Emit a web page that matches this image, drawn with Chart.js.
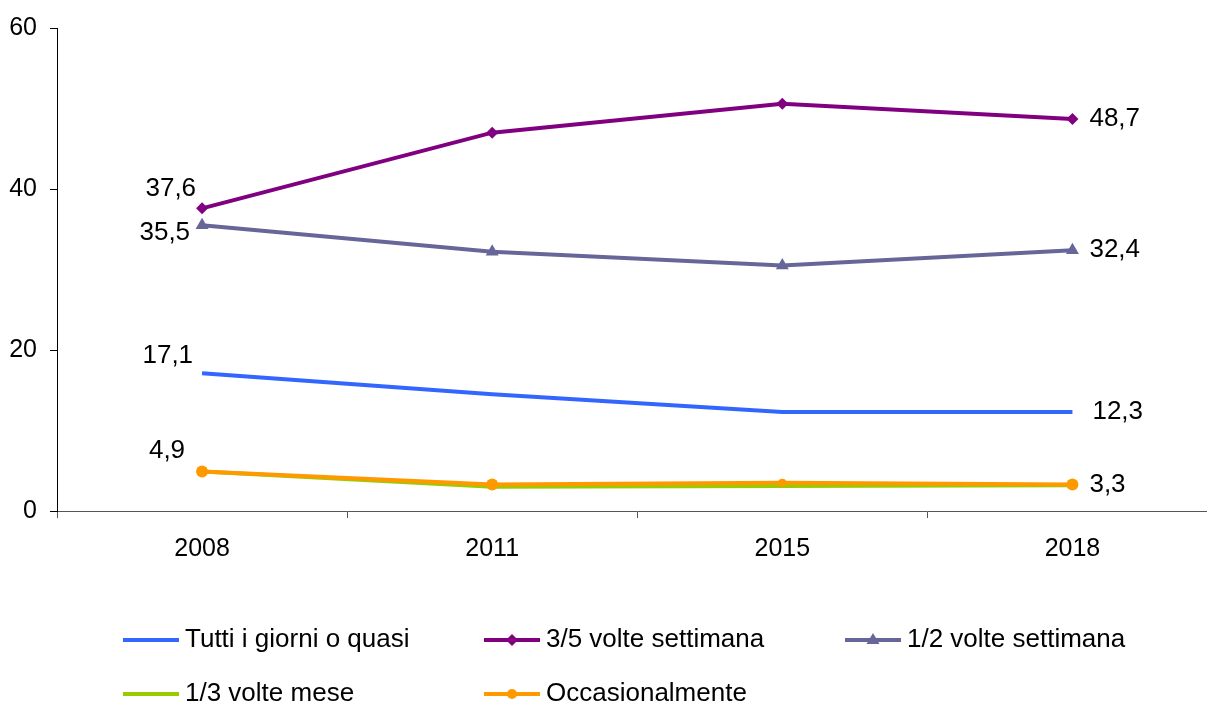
<!DOCTYPE html>
<html>
<head>
<meta charset="utf-8">
<script src="https://cdn.jsdelivr.net/npm/chart.js@4/dist/chart.umd.min.js"></script>
<style>
    html, body { margin: 0; padding: 0; background: #fff; overflow: hidden; }
    #wrap { width: 1225px; height: 706px; }
</style>
</head>
<body>
<div id="wrap"><canvas id="myChart" width="1225" height="706"></canvas></div>
<script>
var anni = ['2008', '2011', '2015', '2018'];
var tuttiGiorni = [17.1, 14.5, 12.3, 12.3];
var treCinqueSett = [37.6, 47.0, 50.6, 48.7];
var unoDueSett = [35.5, 32.2, 30.5, 32.4];
var unoTreMese = [4.9, 3.0, 3.1, 3.2];
var occasionalmente = [4.9, 3.3, 3.5, 3.3];
var yTicks = [0, 20, 40, 60];

var FONT = '"Liberation Sans", Arial, sans-serif';

function formatta(v) {
    return v.toFixed(1).replace('.', ',');
}

// valori scritti accanto al primo e all'ultimo punto
var etichettePlugin = {
    id: 'etichetteValori',
    afterDatasetsDraw: function(chart) {
        var ctx = chart.ctx;
        chart.data.datasets.forEach(function(ds, i) {
            if (!ds.etichette) return;
            var meta = chart.getDatasetMeta(i);
            ds.etichette.forEach(function(e) {
                var pt = meta.data[e.indice];
                ctx.save();
                ctx.font = '26px ' + FONT;
                ctx.fillStyle = '#000';
                ctx.textAlign = e.dx < 0 ? 'right' : 'left';
                ctx.textBaseline = 'middle';
                ctx.fillText(formatta(ds.data[e.indice]), pt.x + e.dx, pt.y + e.dy);
                ctx.restore();
            });
        });
    }
};

function disegnaMarker(ctx, stile, x, y) {
    ctx.beginPath();
    if (stile === 'rectRot') {
        ctx.moveTo(x, y - 6); ctx.lineTo(x + 6, y); ctx.lineTo(x, y + 6); ctx.lineTo(x - 6, y);
    } else if (stile === 'triangle') {
        ctx.moveTo(x, y - 7); ctx.lineTo(x + 6.5, y + 4); ctx.lineTo(x - 6.5, y + 4);
    } else {
        ctx.arc(x, y, 5, 0, Math.PI * 2);
    }
    ctx.closePath();
    ctx.fill();
}

// legenda a griglia: tre colonne, due righe
var legendaPlugin = {
    id: 'legendaGriglia',
    afterDraw: function(chart) {
        var ctx = chart.ctx;
        var colonne = [123, 484, 845];
        var righe = [640, 694];
        chart.data.datasets.forEach(function(ds, i) {
            var x = colonne[i % 3];
            var y = righe[Math.floor(i / 3)];
            ctx.save();
            ctx.strokeStyle = ds.borderColor;
            ctx.lineWidth = 4;
            ctx.beginPath();
            ctx.moveTo(x, y);
            ctx.lineTo(x + 56, y);
            ctx.stroke();
            if (ds.marker) {
                ctx.fillStyle = ds.borderColor;
                disegnaMarker(ctx, ds.pointStyle, x + 28, y);
            }
            ctx.fillStyle = '#000';
            ctx.font = '26px ' + FONT;
            ctx.textAlign = 'left';
            ctx.textBaseline = 'middle';
            ctx.fillText(ds.label, x + 62, y);
            ctx.restore();
        });
    }
};

var ctx = document.getElementById('myChart').getContext('2d');
var myChart = new Chart(ctx, {
    type: 'line',
    data: {
        labels: anni,
        datasets: [
            {
                label: 'Tutti i giorni o quasi',
                data: tuttiGiorni,
                borderColor: '#3366FF',
                borderWidth: 4,
                pointRadius: 0,
                etichette: [{ indice: 0, dx: -9, dy: -18 }, { indice: 3, dx: 20, dy: 0 }]
            },
            {
                label: '3/5 volte settimana',
                data: treCinqueSett,
                borderColor: '#800080',
                backgroundColor: '#800080',
                borderWidth: 4,
                pointStyle: 'rectRot',
                pointRadius: 6,
                pointBorderWidth: 0,
                marker: true,
                etichette: [{ indice: 0, dx: -6, dy: -19 }, { indice: 3, dx: 17, dy: 0 }]
            },
            {
                label: '1/2 volte settimana',
                data: unoDueSett,
                borderColor: '#666699',
                backgroundColor: '#666699',
                borderWidth: 4,
                pointStyle: 'triangle',
                pointRadius: 7.5,
                pointBorderWidth: 0,
                marker: true,
                etichette: [{ indice: 0, dx: -12, dy: 8 }, { indice: 3, dx: 17, dy: 0 }]
            },
            {
                label: '1/3 volte mese',
                data: unoTreMese,
                borderColor: '#99CC00',
                borderWidth: 4,
                pointRadius: 0,
                order: 1
            },
            {
                label: 'Occasionalmente',
                data: occasionalmente,
                borderColor: '#FF9900',
                backgroundColor: '#FF9900',
                borderWidth: 4,
                pointStyle: 'circle',
                pointRadius: [6, 6, 4, 6],
                pointBorderWidth: 0,
                marker: true,
                etichette: [{ indice: 0, dx: -17, dy: -21 }, { indice: 3, dx: 17, dy: 0 }]
            }
        ]
    },
    options: {
        responsive: false,
        animation: false,
        layout: {
            padding: { top: 26, bottom: 120, left: 0, right: 7 }
        },
        plugins: {
            legend: { display: false },
            tooltip: { enabled: false }
        },
        scales: {
            x: {
                offset: true,
                grid: {
                    offset: true,
                    drawOnChartArea: false,
                    tickLength: 7,
                    color: '#555'
                },
                border: { color: '#555', width: 1 },
                ticks: {
                    color: '#000',
                    padding: 16,
                    font: { family: FONT, size: 25 }
                },
                afterFit: function(s) { s.height = 75; }
            },
            y: {
                min: 0,
                max: 60,
                afterBuildTicks: function(axis) {
                    axis.ticks = yTicks.map(function(v) { return { value: v }; });
                },
                grid: {
                    drawOnChartArea: false,
                    tickLength: 7,
                    color: '#000'
                },
                border: { color: '#000', width: 1 },
                ticks: {
                    color: '#000',
                    padding: 13,
                    font: { family: FONT, size: 25 }
                },
                afterFit: function(s) { s.width = 57; }
            }
        }
    },
    plugins: [etichettePlugin, legendaPlugin]
});
</script>
</body>
</html>
